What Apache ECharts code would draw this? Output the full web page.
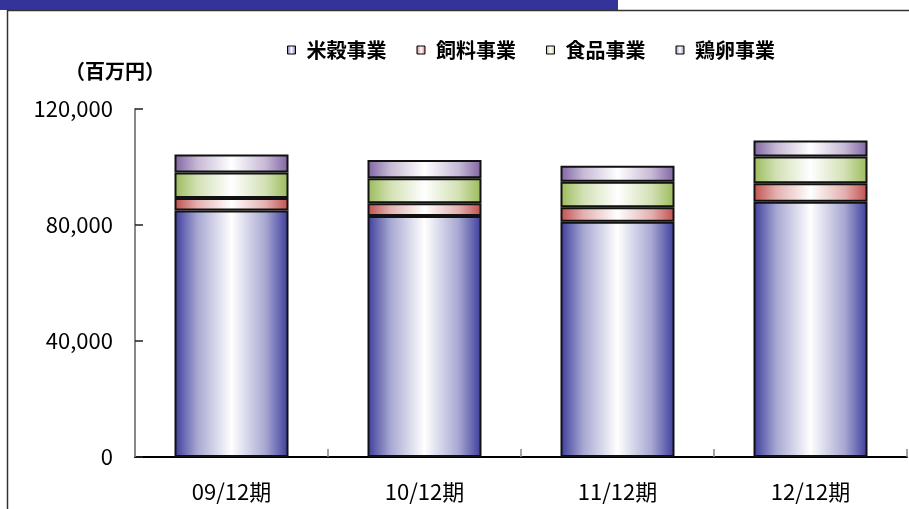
<!DOCTYPE html>
<html>
<head>
<meta charset="utf-8">
<script src="https://cdn.jsdelivr.net/npm/echarts@6/dist/echarts.min.js"></script>
<style>
  html, body { margin: 0; padding: 0; background: #fff; }
  #chart { width: 909px; height: 509px; }
</style>
</head>
<body>
<div id="chart"></div>
<script>
// Fiscal periods (December year-end)
const categories = ['09/12期', '10/12期', '11/12期', '12/12期'];
// Segment sales, millions of yen
const riceSales = [85000, 83100, 81100, 88000];   // 米穀事業
const feedSales = [4300, 4400, 5000, 6400];       // 飼料事業
const foodSales = [8800, 8600, 8800, 9200];       // 食品事業
const eggSales  = [6200, 6300, 5500, 5500];       // 鶏卵事業
const seriesNames = ['米穀事業', '飼料事業', '食品事業', '鶏卵事業'];
const yTicks = [0, 40000, 80000, 120000];

const JP = '"Noto Sans CJK JP", "Noto Sans", sans-serif';

// Mix a hex colour toward white by t (0..1)
function tint(hex, t) {
  const n = parseInt(hex.slice(1), 16);
  const c = [(n >> 16) & 255, (n >> 8) & 255, n & 255].map(v => Math.round(v + (255 - v) * t));
  return 'rgb(' + c.join(',') + ')';
}
// Horizontal "cylinder" shading: dark edges, white centre
function shade(edge) {
  return new echarts.graphic.LinearGradient(0, 0, 1, 0, [
    { offset: 0, color: edge },
    { offset: 0.2, color: tint(edge, 0.55) },
    { offset: 0.5, color: '#ffffff' },
    { offset: 0.8, color: tint(edge, 0.55) },
    { offset: 1, color: edge }
  ]);
}
const edgeColors = ['#3c3c9c', '#c0504d', '#9bbb59', '#8064a2'];
const seriesData = [riceSales, feedSales, foodSales, eggSales];

const chart = echarts.init(document.getElementById('chart'), null, { renderer: 'canvas' });

chart.setOption({
  animation: false,
  backgroundColor: '#ffffff',
  grid: { left: 135, right: 2, top: 109, bottom: 52, containLabel: false },
  legend: {
    left: 282,
    top: 34,
    itemWidth: 8,
    itemHeight: 8,
    itemGap: 30,
    icon: 'rect',
    data: seriesNames,
    itemStyle: { borderColor: '#000', borderWidth: 1 },
    textStyle: {
      fontFamily: JP, fontSize: 20, fontWeight: 'bold', color: '#000',
      lineHeight: 22, padding: [0, 0, 0, 6]
    }
  },
  xAxis: {
    type: 'category',
    data: categories,
    axisLine: { show: true, lineStyle: { color: '#000', width: 2 } },
    axisTick: { show: true, inside: true, length: 8, lineStyle: { color: '#888', width: 1.5 } },
    axisLabel: { fontFamily: JP, fontSize: 22, color: '#000', margin: 24 }
  },
  yAxis: {
    type: 'value',
    min: 0,
    max: 120000,
    interval: 40000,
    splitLine: { show: false },
    axisLine: { show: true, lineStyle: { color: '#888', width: 2 } },
    axisTick: { show: true, inside: true, length: 8, lineStyle: { color: '#222', width: 1.5 } },
    axisLabel: {
      fontFamily: JP, fontSize: 22, color: '#000', margin: 22,
      formatter: v => yTicks.includes(v) ? v.toLocaleString('en-US') : ''
    }
  },
  series: seriesNames.map((name, i) => ({
    name: name,
    type: 'bar',
    stack: 'total',
    barWidth: 114,
    data: seriesData[i],
    itemStyle: {
      color: shade(edgeColors[i]),
      borderColor: '#111',
      borderWidth: 2
    }
  })),
  graphic: [
    // Header band and frame
    { type: 'rect', shape: { x: 0, y: 0, width: 618, height: 10 }, style: { fill: '#333399' }, silent: true },
    { type: 'line', shape: { x1: 7, y1: 10.5, x2: 909, y2: 10.5 }, style: { stroke: '#333', lineWidth: 1.5 }, silent: true },
    { type: 'line', shape: { x1: 7.5, y1: 10, x2: 7.5, y2: 509 }, style: { stroke: '#333', lineWidth: 1.5 }, silent: true },
    // Unit caption
    {
      type: 'text', left: 65, top: 61, silent: true,
      style: { text: '（百万円）', fontFamily: JP, fontSize: 20, fontWeight: 'bold', fill: '#000' }
    }
  ]
});
</script>
</body>
</html>
